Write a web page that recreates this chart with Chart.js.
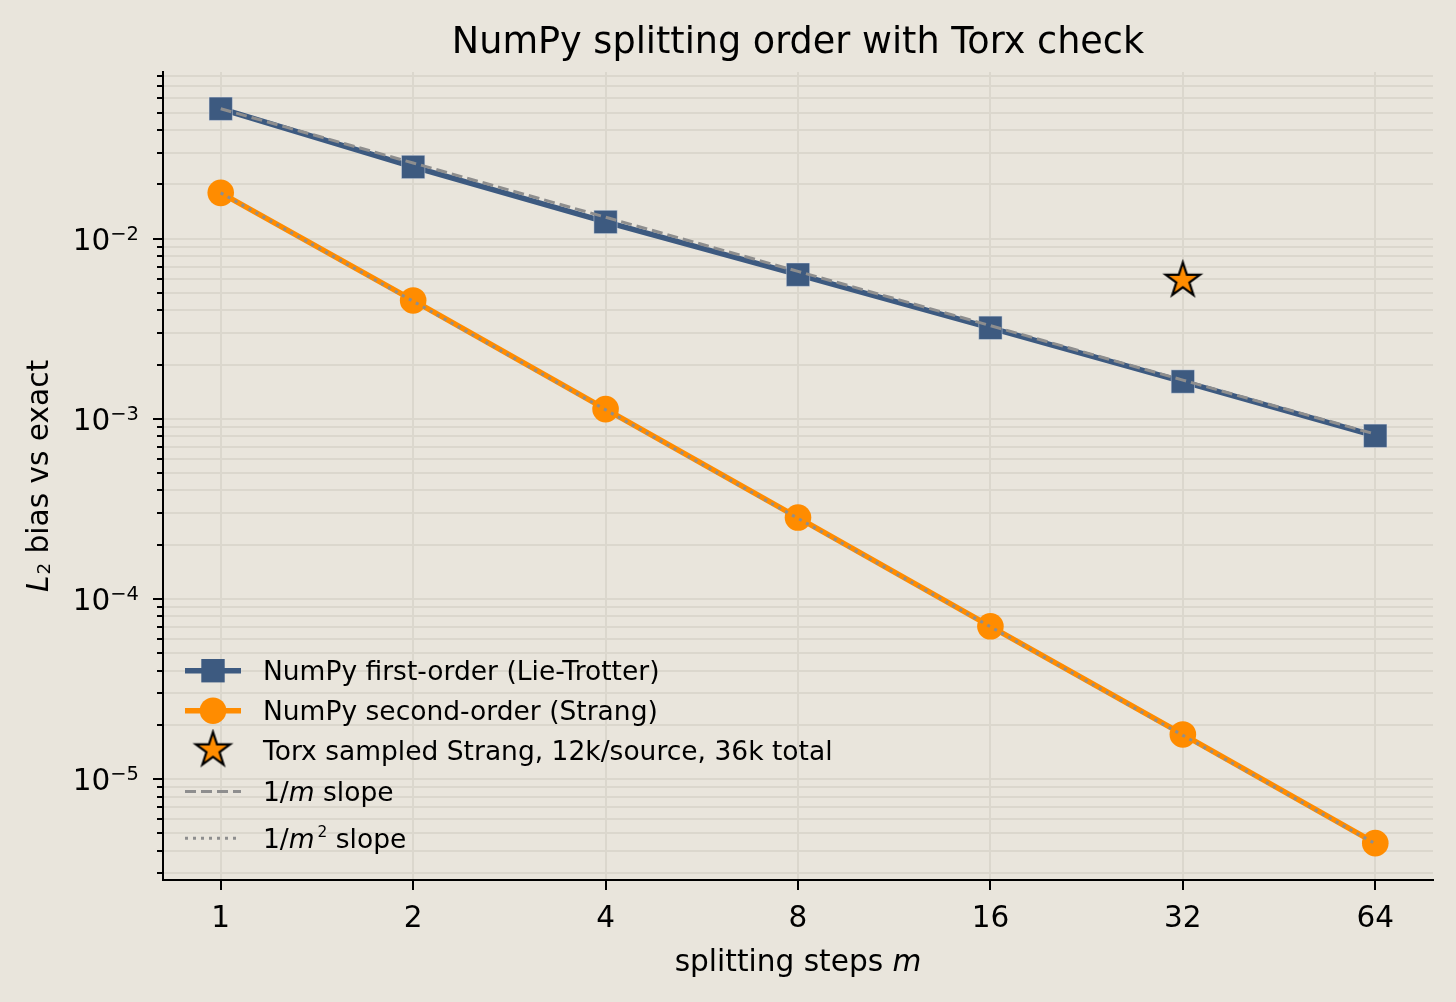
<!DOCTYPE html>
<html><head><meta charset="utf-8">
<script src="https://cdn.jsdelivr.net/npm/chart.js@4.4.1/dist/chart.umd.min.js"></script>
<style>
html,body{margin:0;padding:0;background:#e9e5dc;}
#wrap{width:1456px;height:1002px;position:relative;}
</style>
</head><body>
<div id="wrap"><canvas id="c"></canvas></div>
<script>
// ---- data ----
const steps = [1, 2, 4, 8, 16, 32, 64];
const firstOrder = [0.0526, 0.0250, 0.01238, 0.00631, 0.00320, 0.00161, 0.000805];
const secondOrder = [0.01795, 0.00454, 0.001132, 0.000283, 0.0000705, 0.0000177, 0.00000441];
const torxSteps = [32];
const torxValues = [0.00587];
const refFirst = [0.0526, 0.0263, 0.01315, 0.00658, 0.00329, 0.00164, 0.000822];
const refSecond = [0.01795, 0.00449, 0.001122, 0.000280, 0.0000701, 0.0000175, 0.00000438];
const xTickValues = [1, 2, 4, 8, 16, 32, 64];
const yMajorExponents = [-6, -5, -4, -3, -2, -1];
const legendLabels = [
  [{t: 'NumPy first-order (Lie-Trotter)'}],
  [{t: 'NumPy second-order (Strang)'}],
  [{t: 'Torx sampled Strang, 12k/source, 36k total'}],
  [{t: '1/'}, {t: 'm', it: true}, {t: ' slope'}],
  [{t: '1/'}, {t: 'm', it: true}, {t: '2', sc: 0.58, dy: -0.4, gap: 3}, {t: ' slope'}]
];

// ---- style ----
const BG = '#e9e5dc';
const GRID = '#dbd7cd';
const BLUE = '#3d5a80';
const ORANGE = '#ff8c00';
const GRAY = '#8e8e8e';
const FONT = "'DejaVu Sans', 'Liberation Sans', sans-serif";

const yTickValues = [];
yMajorExponents.forEach(e => { for (let k = 1; k <= 9; k++) yTickValues.push(+(k * Math.pow(10, e)).toPrecision(3)); });
function isMajorY(v) { const l = Math.log10(v); return Math.abs(l - Math.round(l)) < 1e-6; }
function expOf(v) { return Math.round(Math.log10(v)); }

const X_MIN = Math.pow(2, -0.3), X_MAX = Math.pow(2, 6.3);
const Y_MIN = Math.pow(10, -5.56), Y_MAX = Math.pow(10, -1.075);

// star point style
function makeStar(R, fill, stroke, lw) {
  const s = Math.ceil(2 * R + lw * 2 + 2);
  const cv = document.createElement('canvas');
  cv.width = s; cv.height = s;
  const g = cv.getContext('2d');
  const cx = s / 2, cy = s / 2, r = R * 0.382;
  g.beginPath();
  for (let i = 0; i < 10; i++) {
    const ang = -Math.PI / 2 + i * Math.PI / 5;
    const rr = i % 2 === 0 ? R : r;
    const px = cx + rr * Math.cos(ang), py = cy + rr * Math.sin(ang);
    i === 0 ? g.moveTo(px, py) : g.lineTo(px, py);
  }
  g.closePath();
  g.fillStyle = fill; g.fill();
  g.lineWidth = lw; g.strokeStyle = stroke; g.lineJoin = 'miter'; g.stroke();
  return cv;
}
const starImg = makeStar(18, ORANGE, '#000', 2.2);

function pts(xs, ys) { return xs.map((x, i) => ({x: x, y: ys[i]})); }

// mixed-style text runs
function fontOf(r, size) { return (r.it ? 'italic ' : '') + (size * (r.sc || 1)).toFixed(2) + 'px ' + FONT; }
function runsWidth(ctx, runs, size) {
  let w = 0; runs.forEach(r => { ctx.font = fontOf(r, size); w += (r.gap || 0) + ctx.measureText(r.t).width; }); return w;
}
function drawRuns(ctx, runs, x, y, size, align) {
  const w = runsWidth(ctx, runs, size);
  let cx = align === 'center' ? x - w / 2 : (align === 'right' ? x - w : x);
  ctx.textAlign = 'left'; ctx.textBaseline = 'alphabetic';
  runs.forEach(r => {
    ctx.font = fontOf(r, size);
    cx += (r.gap || 0);
    ctx.fillText(r.t, cx, y + (r.dy || 0) * size);
    cx += ctx.measureText(r.t).width;
  });
}

const decor = {
  id: 'decor',
  beforeDraw(chart) {
    const ctx = chart.ctx;
    ctx.save(); ctx.fillStyle = BG; ctx.fillRect(0, 0, chart.width, chart.height); ctx.restore();
  },
  afterDraw(chart) {
    const ctx = chart.ctx, a = chart.chartArea, xs = chart.scales.x, ys = chart.scales.y;
    ctx.save();
    ctx.strokeStyle = '#000'; ctx.lineWidth = 2;
    ctx.fillStyle = '#000';
    ys.ticks.forEach(t => {
      const y = Math.round(ys.getPixelForValue(t.value));
      const major = isMajorY(t.value);
      const len = major ? 10 : 6;
      ctx.beginPath(); ctx.moveTo(a.left - len, y); ctx.lineTo(a.left, y); ctx.stroke();
      if (major) {
        const e = expOf(t.value);
        drawRuns(ctx, [{t: '10'}, {t: '\u2212' + Math.abs(e), sc: 0.66, dy: -0.34}], a.left - 24, y + 10.7, 29.5, 'right');
      }
    });
    xs.ticks.forEach(t => {
      const x = Math.round(xs.getPixelForValue(t.value));
      ctx.beginPath(); ctx.moveTo(x, a.bottom); ctx.lineTo(x, a.bottom + 10); ctx.stroke();
    });
    const midX = (a.left + a.right) / 2;
    // title
    drawRuns(ctx, [{t: 'NumPy splitting order with Torx check'}], midX, a.top - 19.5, 36.6, 'center');
    // x label
    drawRuns(ctx, [{t: 'splitting steps '}, {t: 'm', it: true}], midX, a.bottom + 91, 29.6, 'center');
    // y label
    ctx.save();
    ctx.translate(47.5, (a.top + a.bottom) / 2);
    ctx.rotate(-Math.PI / 2);
    drawRuns(ctx, [{t: 'L', it: true}, {t: '2', sc: 0.62, dy: 0.1, gap: 1}, {t: ' bias vs exact'}], 0, 0, 29.6, 'center');
    ctx.restore();
    // legend
    const LS = 26.5;
    const hx0 = a.left + 22, hx1 = a.left + 78, hm = (hx0 + hx1) / 2, tx = a.left + 100;
    const rowY = [a.top + 598.7, a.top + 638.7, a.top + 678, a.top + 719.5, a.top + 766.3];
    ctx.lineCap = 'butt';
    ctx.strokeStyle = BLUE; ctx.lineWidth = 5.5;
    ctx.beginPath(); ctx.moveTo(hx0, rowY[0]); ctx.lineTo(hx1, rowY[0]); ctx.stroke();
    ctx.fillStyle = BLUE; ctx.fillRect(hm - 11.7, rowY[0] - 11.7, 23.4, 23.4);
    ctx.strokeStyle = ORANGE;
    ctx.beginPath(); ctx.moveTo(hx0, rowY[1]); ctx.lineTo(hx1, rowY[1]); ctx.stroke();
    ctx.fillStyle = ORANGE; ctx.beginPath(); ctx.arc(hm, rowY[1], 13.3, 0, Math.PI * 2); ctx.fill();
    ctx.drawImage(starImg, hm - starImg.width / 2, rowY[2] - starImg.height / 2);
    ctx.strokeStyle = GRAY; ctx.lineWidth = 3;
    ctx.setLineDash([11, 5]);
    ctx.beginPath(); ctx.moveTo(hx0, rowY[3]); ctx.lineTo(hx1, rowY[3]); ctx.stroke();
    ctx.setLineDash([3, 5]);
    ctx.beginPath(); ctx.moveTo(hx0, rowY[4]); ctx.lineTo(hx1, rowY[4]); ctx.stroke();
    ctx.setLineDash([]);
    ctx.fillStyle = '#000';
    legendLabels.forEach((runs, i) => drawRuns(ctx, runs, tx, rowY[i] + 0.729 * LS / 2, LS, 'left'));
    ctx.restore();
  }
};

new Chart(document.getElementById('c'), {
  type: 'line',
  data: {
    datasets: [
      {label: '1/m slope', data: pts(steps, refFirst), borderColor: GRAY, borderWidth: 3, borderDash: [11, 5],
       pointRadius: 0, fill: false, order: 0},
      {label: '1/m^2 slope', data: pts(steps, refSecond), borderColor: GRAY, borderWidth: 3, borderDash: [3, 5],
       pointRadius: 0, fill: false, order: 0},
      {label: 'Torx sampled Strang, 12k/source, 36k total', data: pts(torxSteps, torxValues), showLine: false,
       pointStyle: starImg, pointRadius: 18, order: 1},
      {label: 'NumPy second-order (Strang)', data: pts(steps, secondOrder), borderColor: ORANGE, borderWidth: 5.5,
       pointStyle: 'circle', pointRadius: 13.3, pointBackgroundColor: ORANGE, pointBorderColor: ORANGE,
       pointBorderWidth: 0, fill: false, order: 2},
      {label: 'NumPy first-order (Lie-Trotter)', data: pts(steps, firstOrder), borderColor: BLUE, borderWidth: 5.5,
       pointStyle: 'rect', pointRadius: 16.5, pointBackgroundColor: BLUE, pointBorderColor: 'rgba(225,228,235,0.45)',
       pointBorderWidth: 1, fill: false, order: 3}
    ]
  },
  options: {
    responsive: true, maintainAspectRatio: false, animation: false,
    layout: {padding: {top: 72, right: 23, left: 0, bottom: 0}},
    plugins: {legend: {display: false}, tooltip: {enabled: false}, title: {display: false}},
    elements: {line: {tension: 0}},
    scales: {
      x: {
        type: 'logarithmic', min: X_MIN, max: X_MAX,
        afterBuildTicks: s => { s.ticks = xTickValues.map(v => ({value: v})); },
        afterFit: s => { s.height = 122; },
        ticks: {autoSkip: false, maxRotation: 0, padding: 22, color: '#000',
                font: {family: FONT, size: 29.5}, callback: v => String(v)},
        grid: {color: GRID, lineWidth: 2, drawTicks: false},
        border: {display: true, color: '#000', width: 2}
      },
      y: {
        type: 'logarithmic', min: Y_MIN, max: Y_MAX,
        afterBuildTicks: s => { s.ticks = yTickValues.filter(v => v >= Y_MIN && v <= Y_MAX).map(v => ({value: v, major: isMajorY(v)})); },
        afterFit: s => { s.width = 163; },
        ticks: {display: false, autoSkip: false},
        grid: {color: GRID, lineWidth: 2, drawTicks: false},
        border: {display: true, color: '#000', width: 2}
      }
    }
  },
  plugins: [decor]
});
</script>
</body></html>
